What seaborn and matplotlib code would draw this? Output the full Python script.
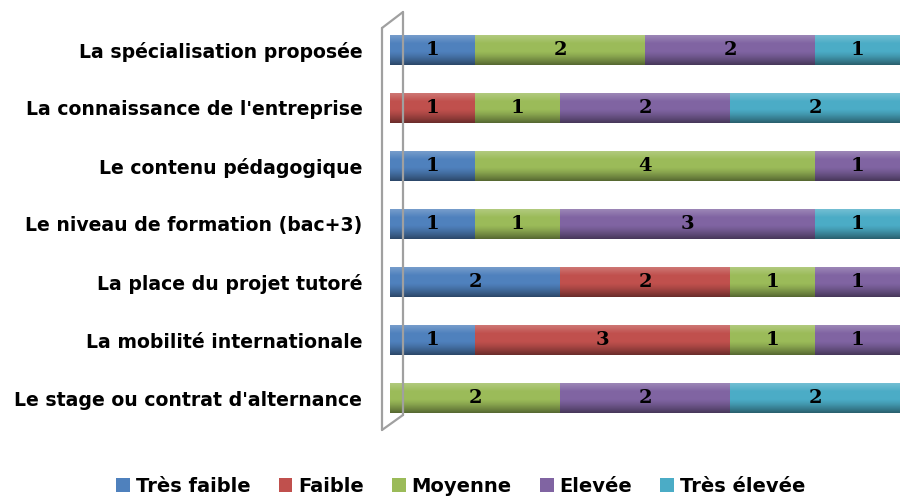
import numpy as np
import pandas as pd
import seaborn as sns
import matplotlib.pyplot as plt
from matplotlib.lines import Line2D
from matplotlib.patches import Patch

# Données
categories = [
    "La spécialisation proposée",
    "La connaissance de l'entreprise",
    "Le contenu pédagogique",
    "Le niveau de formation (bac+3)",
    "La place du projet tutoré",
    "La mobilité internationale",
    "Le stage ou contrat d'alternance",
]
series = ["Très faible", "Faible", "Moyenne", "Elevée", "Très élevée"]
tres_faible = [1, 0, 1, 1, 2, 1, 0]
faible = [0, 1, 0, 0, 2, 3, 0]
moyenne = [2, 1, 4, 1, 1, 1, 2]
elevee = [2, 2, 1, 3, 1, 1, 2]
tres_elevee = [1, 2, 0, 1, 0, 0, 2]
colors = ["#4F81BD", "#C0504D", "#9BBB59", "#8064A2", "#4BACC6"]

values = np.array([tres_faible, faible, moyenne, elevee, tres_elevee])
cum = values.cumsum(axis=0)

sns.set_theme(style="white")
plt.rcParams["font.family"] = ["DejaVu Sans"]

fig = plt.figure(figsize=(9, 4.96), dpi=100)
ax = fig.add_axes([0.4335, 0.139, 0.5665, 0.819])

# barres empilées : on dessine les cumuls du plus grand au plus petit
for i in range(len(series) - 1, -1, -1):
    df = pd.DataFrame({"cat": categories, "val": cum[i]})
    sns.barplot(data=df, x="val", y="cat", color=colors[i], saturation=1,
                width=0.52, orient="h", ax=ax, zorder=2,
                edgecolor="none", linewidth=0)

# effet cylindre (dégradé vertical)
grad = np.zeros((64, 1, 4))
t = np.linspace(0, 1, 64)
shade = np.where(t < 0.3, 0.25 * (1 - t / 0.3), 0)
dark = np.where(t > 0.55, 0.45 * ((t - 0.55) / 0.45) ** 1.3, 0)
grad[:, 0, :3] = np.where(dark[:, None] > 0, 0, 1)
grad[:, 0, 3] = shade + dark
for j, tot in enumerate(cum[-1]):
    ax.imshow(grad, extent=(0, tot, j + 0.26, j - 0.26), aspect="auto",
              zorder=3, interpolation="bilinear")

# étiquettes de valeurs
for i in range(len(series)):
    for j in range(len(categories)):
        v = values[i, j]
        if v > 0:
            ax.text(cum[i, j] - v / 2, j, str(v), ha="center", va="center",
                    fontsize=14, fontweight="bold", family="DejaVu Serif",
                    color="black", zorder=4)

ax.set_xlim(0, 6)
ax.set_ylim(6.5, -0.5)
ax.set_xlabel("")
ax.set_ylabel("")
ax.set_xticks([])
ax.tick_params(axis="y", length=0, pad=20, colors="black")
for lab in ax.get_yticklabels():
    lab.set_fontweight("bold")
    lab.set_fontsize(13.6)
for s in ax.spines.values():
    s.set_visible(False)

# paroi 3D à gauche
W, H = 900, 496
wall = [((382, 28), (382, 430)), ((403, 12), (403, 415)),
        ((382, 28), (403, 12)), ((382, 430), (403, 415))]
for (x0, y0), (x1, y1) in wall:
    fig.add_artist(Line2D([x0 / W, x1 / W], [1 - y0 / H, 1 - y1 / H],
                          color="#A0A0A0", lw=1.6))

handles = [Patch(facecolor=c, edgecolor="none") for c in colors]
leg = fig.legend(handles, series, loc="center", bbox_to_anchor=(0.512, 0.02),
                 ncol=5, frameon=False, handlelength=0.7, handleheight=0.7,
                 handletextpad=0.3, columnspacing=1.45,
                 prop={"weight": "bold", "size": 14})
for txt in leg.get_texts():
    txt.set_color("black")

fig.savefig("out.png", dpi=100)
